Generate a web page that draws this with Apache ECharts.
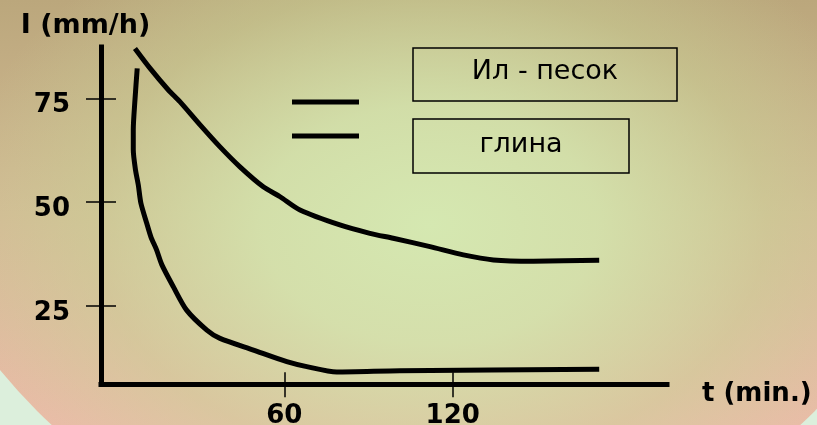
<!DOCTYPE html>
<html>
<head>
<meta charset="utf-8">
<script src="https://cdn.jsdelivr.net/npm/echarts@6/dist/echarts.min.js"></script>
<style>
  html, body { margin: 0; padding: 0; }
  #wrap { position: relative; width: 817px; height: 425px; overflow: hidden; background: #dcefdc; }
  #disc {
    position: absolute; left: 0; top: 0; width: 817px; height: 425px;
    clip-path: circle(550px at 426px 22px);
    background:
      radial-gradient(ellipse 480px 340px at 430px 225px,
        rgba(213,232,177,1) 0%, rgba(211,229,173,0.85) 35%, rgba(200,212,150,0.45) 70%, rgba(200,212,150,0) 100%),
      linear-gradient(to bottom, #bba77c 0%, #d3bb95 50%, #eabca8 100%);
  }
  #chart { position: absolute; left: 0; top: 0; width: 817px; height: 425px; }
</style>
</head>
<body>
<div id="wrap"><div id="disc"></div><div id="chart"></div></div>
<script>
// ---- data ----
const xTicks = [60, 120];
const yTicks = [25, 50, 75];
const xName = 't (min.)';
const yName = 'I (mm/h)';
const seriesNames = ['Ил - песок', 'глина'];

const siltT = [6.8, 12.2, 18.7, 22.8, 30.0, 37.1, 44.2, 52.5, 58.5, 65.6, 79.8, 90.5, 98.8, 111.9, 123.8, 134.5, 148.7, 172.2];
const siltV = [87.0, 82.2, 77.0, 74.2, 68.6, 63.3, 58.5, 53.7, 51.3, 48.1, 44.5, 42.5, 41.3, 39.3, 37.3, 36.1, 35.8, 36.0];

const clayT = [7.6, 6.8, 6.2, 6.2, 7.0, 8.0, 8.9, 11.0, 12.5, 14.5, 16.4, 20.5, 25.2, 32.4, 37.1, 49.0, 60.9, 68.0, 78.7, 101.2, 172.2];
const clayV = [82.2, 74.6, 67.4, 62.6, 57.7, 54.1, 49.8, 44.9, 41.6, 38.5, 34.9, 29.6, 24.0, 19.2, 17.2, 14.4, 11.6, 10.4, 9.1, 9.4, 9.8];

const xMin = -5.3, xMax = 196.35;
const yMin = 6.15, yMax = 87.35;

const zip = (a, b) => a.map((v, i) => [v, b[i]]);
const boldFont = { fontFamily: 'DejaVu Sans', fontWeight: 'bold', fontSize: 26, color: '#000' };

const chart = echarts.init(document.getElementById('chart'), null, { renderer: 'canvas' });
chart.setOption({
  backgroundColor: 'transparent',
  animation: false,
  grid: { left: 101, right: 150, top: 47, bottom: 40.7, containLabel: false, outerBoundsMode: 'none' },
  xAxis: [
    {
      type: 'value', min: xMin, max: xMax,
      axisLine: { show: true, onZero: false, lineStyle: { color: '#000', width: 5, cap: 'square' } },
      axisTick: { show: true, inside: false, length: 13, customValues: xTicks, lineStyle: { color: '#000', width: 1.5 } },
      axisLabel: Object.assign({ show: true, margin: 19, customValues: xTicks }, boldFont),
      splitLine: { show: false },
      name: xName, nameLocation: 'end', nameGap: 35,
      nameTextStyle: Object.assign({ verticalAlign: 'top', lineHeight: 20 }, boldFont)
    },
    {
      type: 'value', min: xMin, max: xMax, position: 'bottom',
      axisLine: { show: false, onZero: false },
      axisTick: { show: true, inside: true, length: 12, customValues: xTicks, lineStyle: { color: '#000', width: 1.5 } },
      axisLabel: { show: false },
      splitLine: { show: false }
    }
  ],
  yAxis: [
    {
      type: 'value', min: yMin, max: yMax,
      axisLine: { show: true, onZero: false, lineStyle: { color: '#000', width: 5, cap: 'square' } },
      axisTick: { show: true, inside: false, length: 15, customValues: yTicks, lineStyle: { color: '#000', width: 1.5 } },
      axisLabel: Object.assign({ show: true, margin: 31, customValues: yTicks, verticalAlign: 'top', lineHeight: 14 }, boldFont),
      splitLine: { show: false },
      name: yName, nameLocation: 'end', nameGap: 8,
      nameTextStyle: Object.assign({ padding: [0, 31, 0, 0] }, boldFont, { fontSize: 27 })
    },
    {
      type: 'value', min: yMin, max: yMax, position: 'left',
      axisLine: { show: false, onZero: false },
      axisTick: { show: true, inside: true, length: 15, customValues: yTicks, lineStyle: { color: '#000', width: 1.5 } },
      axisLabel: { show: false },
      splitLine: { show: false }
    }
  ],
  series: [
    {
      name: seriesNames[0], type: 'line', xAxisIndex: 0, yAxisIndex: 0,
      data: zip(siltT, siltV), symbol: 'none', smooth: 0.25,
      lineStyle: { color: '#000', width: 5 }
    },
    {
      name: seriesNames[1], type: 'line', xAxisIndex: 0, yAxisIndex: 0,
      data: zip(clayT, clayV), symbol: 'none', smooth: 0.25,
      lineStyle: { color: '#000', width: 5 }
    }
  ],
  graphic: [
    { type: 'line', shape: { x1: 292, y1: 102, x2: 359, y2: 102 }, style: { stroke: '#000', lineWidth: 5 } },
    { type: 'line', shape: { x1: 292, y1: 136, x2: 359, y2: 136 }, style: { stroke: '#000', lineWidth: 5 } },
    { type: 'rect', shape: { x: 413, y: 48, width: 264, height: 53 }, style: { fill: 'transparent', stroke: '#000', lineWidth: 1.5 } },
    { type: 'rect', shape: { x: 413, y: 119, width: 216, height: 54 }, style: { fill: 'transparent', stroke: '#000', lineWidth: 1.5 } },
    { type: 'text', x: 545, y: 72, style: { text: seriesNames[0], fontFamily: 'DejaVu Sans', fontSize: 27, fill: '#000', align: 'center', verticalAlign: 'middle' } },
    { type: 'text', x: 521, y: 145, style: { text: seriesNames[1], fontFamily: 'DejaVu Sans', fontSize: 27, fill: '#000', align: 'center', verticalAlign: 'middle' } }
  ]
});
</script>
</body>
</html>
